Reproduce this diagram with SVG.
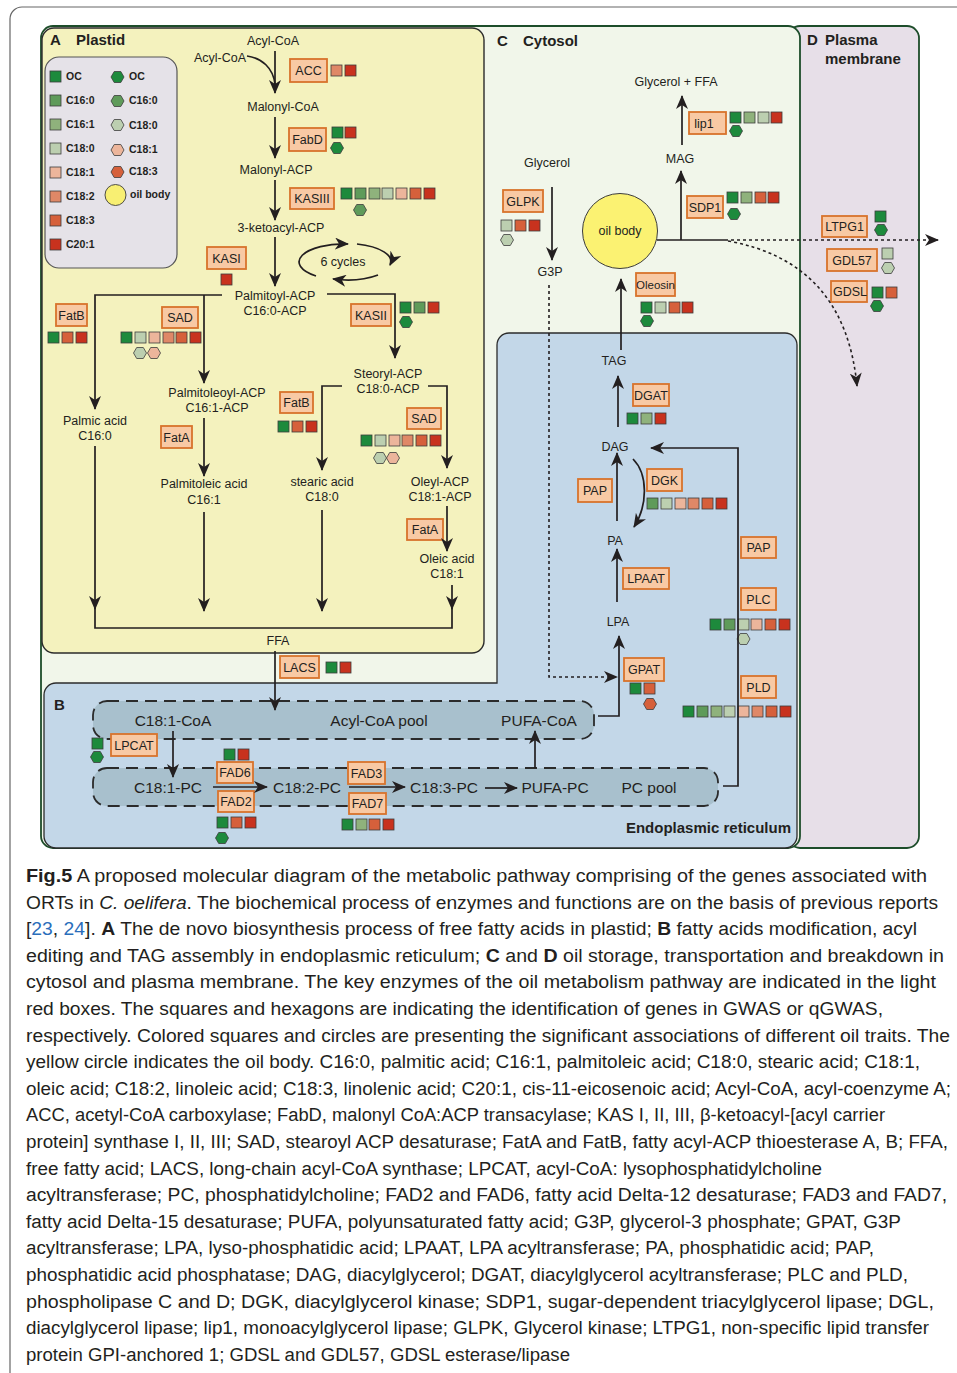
<svg xmlns="http://www.w3.org/2000/svg" width="957" height="1373" viewBox="0 0 957 1373">
<style>
.t{font-family:"Liberation Sans",Arial,sans-serif;font-size:12.5px;fill:#231f20;text-anchor:middle}
.er{font-size:15.5px}
.b{font-weight:bold}
.st{text-anchor:start}
.en{text-anchor:end}
.lg{font-family:"Liberation Sans",Arial,sans-serif;font-size:10.5px;font-weight:bold;fill:#231f20}
.box rect{fill:#f8c9a4;stroke:#d8732c;stroke-width:1.8}
.q{stroke:#3c3c3c;stroke-width:0.8}
.c0{fill:#1d8a3c}.c1{fill:#5f9b5a}.c2{fill:#8fb27c}.c3{fill:#bccfb0}.c4{fill:#ecb59b}.c5{fill:#df8867}.c6{fill:#d6603b}.c7{fill:#c8321e}
.ln{fill:none;stroke:#231f20;stroke-width:1.7}
.ar{marker-end:url(#ah)}
.dot{stroke-dasharray:3 3;stroke-width:1.6}
.pool{fill:#a8c0cd;stroke:#2b2b2b;stroke-width:1.8;stroke-dasharray:12 7}
.cap{font-family:"Liberation Sans",Arial,sans-serif;font-size:18px;fill:#231f20}
.lk{fill:#2a6ebb}
</style>
<defs>
<marker id="ah" viewBox="0 0 14 12" refX="13" refY="6" markerWidth="14" markerHeight="12" markerUnits="userSpaceOnUse" orient="auto"><path d="M0,0 L14,6 L0,12 L4,6 z" fill="#231f20"/></marker>
<rect id="s" width="11" height="11"/>
<polygon id="h" points="-6.5,0 -3.3,-5.5 3.3,-5.5 6.5,0 3.3,5.5 -3.3,5.5"/>
</defs>

<!-- outer frame -->
<path d="M10 1373 V19 A12 12 0 0 1 22 7 H957" fill="none" stroke="#666" stroke-width="1.2"/>

<g id="panels">
<rect id="panelD" x="788" y="26" width="131" height="822" rx="12" fill="#e7dfe8" stroke="#1d4d2a" stroke-width="1.8"/>
<rect id="panelC" x="41" y="26" width="759" height="822" rx="12" fill="#f1f6ea" stroke="#1d4d2a" stroke-width="1.8"/>
<rect id="panelA" x="42" y="28" width="442" height="625" rx="12" fill="#f4f2be" stroke="#2b2b2b" stroke-width="1.4"/>
<path id="panelB" d="M509 333 H785 A12 12 0 0 1 797 345 V836 A12 12 0 0 1 785 848 H56 A12 12 0 0 1 44 836 V695 A12 12 0 0 1 56 683 H497 V345 A12 12 0 0 1 509 333 Z" fill="#c3d7e8" stroke="#2b2b2b" stroke-width="1.3"/>
<rect id="acylpool" class="pool" x="93" y="701" width="501" height="38" rx="14"/>
<rect id="pcpool" class="pool" x="93" y="768" width="625" height="38" rx="14"/>
<text class="t b st" style="font-size:15px" x="50" y="45">A</text>
<text class="t b st" style="font-size:15px" x="76" y="45">Plastid</text>
<text class="t b st" style="font-size:15px" x="497" y="46">C</text>
<text class="t b st" style="font-size:15px" x="523" y="46">Cytosol</text>
<text class="t b st" style="font-size:15px" x="807" y="45">D</text>
<text class="t b st" style="font-size:15px" x="825" y="45">Plasma</text>
<text class="t b st" style="font-size:15px" x="825" y="64">membrane</text>
<text class="t b st" style="font-size:15px" x="54" y="710">B</text>
<text class="t b en" style="font-size:15px" x="791" y="833">Endoplasmic reticulum</text>
</g>

<g id="legend">
<rect x="45" y="57" width="132" height="211" rx="14" fill="#e5e2e8" stroke="#555" stroke-width="1.2"/>
<use href="#s" x="50" y="71" class="q c0"/><text class="lg" x="66" y="80">OC</text>
<use href="#s" x="50" y="95" class="q c1"/><text class="lg" x="66" y="104">C16:0</text>
<use href="#s" x="50" y="119" class="q c2"/><text class="lg" x="66" y="128">C16:1</text>
<use href="#s" x="50" y="143" class="q c3"/><text class="lg" x="66" y="152">C18:0</text>
<use href="#s" x="50" y="167" class="q c4"/><text class="lg" x="66" y="176">C18:1</text>
<use href="#s" x="50" y="191" class="q c5"/><text class="lg" x="66" y="200">C18:2</text>
<use href="#s" x="50" y="215" class="q c6"/><text class="lg" x="66" y="224">C18:3</text>
<use href="#s" x="50" y="239" class="q c7"/><text class="lg" x="66" y="248">C20:1</text>
<use href="#h" x="117.5" y="77" class="q c0"/><text class="lg" x="129" y="80">OC</text>
<use href="#h" x="117.5" y="101" class="q c1"/><text class="lg" x="129" y="104">C16:0</text>
<use href="#h" x="117.5" y="125" class="q c3"/><text class="lg" x="129" y="129">C18:0</text>
<use href="#h" x="117.5" y="150" class="q c4"/><text class="lg" x="129" y="153">C18:1</text>
<use href="#h" x="117.5" y="172" class="q c6"/><text class="lg" x="129" y="175">C18:3</text>
<circle cx="115.5" cy="195" r="10.5" fill="#f8ef72" stroke="#3c3c3c" stroke-width="0.9"/><text class="lg" x="130" y="198">oil body</text>
</g>

<!-- metabolites -->
<g id="m-acylcoa1"><text class="t" x="273" y="45">Acyl-CoA</text></g>
<g id="m-acylcoa2"><text class="t" x="220" y="62">Acyl-CoA</text></g>
<g id="m-malonylcoa"><text class="t" x="283" y="111">Malonyl-CoA</text></g>
<g id="m-malonylacp"><text class="t" x="276" y="174">Malonyl-ACP</text></g>
<g id="m-ketoacyl"><text class="t" x="281" y="232">3-ketoacyl-ACP</text></g>
<g id="m-cycles"><text class="t" x="343" y="266">6 cycles</text></g>
<g id="m-palmitoyl"><text class="t" x="275" y="300">Palmitoyl-ACP</text><text class="t" x="275" y="315">C16:0-ACP</text></g>
<g id="m-palmic"><text class="t" x="95" y="425">Palmic acid</text><text class="t" x="95" y="440">C16:0</text></g>
<g id="m-palmitoleoyl"><text class="t" x="217" y="397">Palmitoleoyl-ACP</text><text class="t" x="217" y="412">C16:1-ACP</text></g>
<g id="m-palmitoleic"><text class="t" x="204" y="488">Palmitoleic acid</text><text class="t" x="204" y="504">C16:1</text></g>
<g id="m-steoryl"><text class="t" x="388" y="378">Steoryl-ACP</text><text class="t" x="388" y="393">C18:0-ACP</text></g>
<g id="m-stearic"><text class="t" x="322" y="486">stearic acid</text><text class="t" x="322" y="501">C18:0</text></g>
<g id="m-oleyl"><text class="t" x="440" y="486">Oleyl-ACP</text><text class="t" x="440" y="501">C18:1-ACP</text></g>
<g id="m-oleic"><text class="t" x="447" y="563">Oleic acid</text><text class="t" x="447" y="578">C18:1</text></g>
<g id="m-ffa"><text class="t" x="278" y="645">FFA</text></g>
<g id="m-c181coa"><text class="t er" x="173" y="726">C18:1-CoA</text></g>
<g id="m-acylpool"><text class="t er" x="379" y="726">Acyl-CoA pool</text></g>
<g id="m-pufacoa"><text class="t er" x="539" y="726">PUFA-CoA</text></g>
<g id="m-c181pc"><text class="t er" x="168" y="793">C18:1-PC</text></g>
<g id="m-c182pc"><text class="t er" x="307" y="793">C18:2-PC</text></g>
<g id="m-c183pc"><text class="t er" x="444" y="793">C18:3-PC</text></g>
<g id="m-pufapc"><text class="t er" x="555" y="793">PUFA-PC</text></g>
<g id="m-pcpool"><text class="t er" x="649" y="793">PC pool</text></g>
<g id="m-glyffa"><text class="t" x="676" y="86">Glycerol + FFA</text></g>
<g id="m-mag"><text class="t" x="680" y="163">MAG</text></g>
<g id="m-glycerol"><text class="t" x="547" y="167">Glycerol</text></g>
<g id="m-g3p"><text class="t" x="550" y="276">G3P</text></g>
<g id="m-oilbody"><circle cx="620" cy="231" r="37.5" fill="#fbf272" stroke="#3c3c3c" stroke-width="1"/><text class="t" x="620" y="235">oil body</text></g>
<g id="m-tag"><text class="t" x="614" y="365">TAG</text></g>
<g id="m-dag"><text class="t" x="615" y="451">DAG</text></g>
<g id="m-pa"><text class="t" x="615" y="545">PA</text></g>
<g id="m-lpa"><text class="t" x="618" y="626">LPA</text></g>

<!-- enzymes -->
<g id="e-acc" class="box"><rect x="290" y="59" width="37" height="23"/><text class="t" x="308.5" y="75">ACC</text>
<use href="#s" x="331" y="65" class="q c5"/><use href="#s" x="345" y="65" class="q c7"/></g>
<g id="e-fabd" class="box"><rect x="289" y="128" width="37" height="23"/><text class="t" x="307.5" y="144">FabD</text>
<use href="#s" x="332" y="127" class="q c0"/><use href="#s" x="345" y="127" class="q c7"/><use href="#h" x="337" y="148" class="q c0"/></g>
<g id="e-kasiii" class="box"><rect x="290" y="188" width="44" height="21"/><text class="t" x="312" y="203">KASIII</text>
<use href="#s" x="341" y="188" class="q c0"/><use href="#s" x="355" y="188" class="q c1"/><use href="#s" x="369" y="188" class="q c2"/><use href="#s" x="382" y="188" class="q c3"/><use href="#s" x="396" y="188" class="q c4"/><use href="#s" x="410" y="188" class="q c6"/><use href="#s" x="424" y="188" class="q c7"/><use href="#h" x="360" y="210" class="q c1"/></g>
<g id="e-kasi" class="box"><rect x="207" y="247" width="39" height="22"/><text class="t" x="226.5" y="262.5">KASI</text>
<use href="#s" x="221" y="274" class="q c7"/></g>
<g id="e-fatb1" class="box"><rect x="56" y="304" width="31" height="22"/><text class="t" x="71.5" y="319.5">FatB</text>
<use href="#s" x="48" y="332" class="q c0"/><use href="#s" x="62" y="332" class="q c6"/><use href="#s" x="76" y="332" class="q c7"/></g>
<g id="e-sad1" class="box"><rect x="162" y="307" width="36" height="21"/><text class="t" x="180" y="322">SAD</text>
<use href="#s" x="121" y="332" class="q c0"/><use href="#s" x="135" y="332" class="q c3"/><use href="#s" x="149" y="332" class="q c4"/><use href="#s" x="163" y="332" class="q c5"/><use href="#s" x="176" y="332" class="q c6"/><use href="#s" x="190" y="332" class="q c7"/><use href="#h" x="140" y="353" class="q c3"/><use href="#h" x="154" y="353" class="q c4"/></g>
<g id="e-kasii" class="box"><rect x="351" y="304" width="40" height="22"/><text class="t" x="371" y="319.5">KASII</text>
<use href="#s" x="400" y="302" class="q c0"/><use href="#s" x="414" y="302" class="q c1"/><use href="#s" x="428" y="302" class="q c7"/><use href="#h" x="406" y="322" class="q c0"/></g>
<g id="e-fatb2" class="box"><rect x="280" y="392" width="33" height="21"/><text class="t" x="296.5" y="407">FatB</text>
<use href="#s" x="278" y="421" class="q c0"/><use href="#s" x="292" y="421" class="q c6"/><use href="#s" x="306" y="421" class="q c7"/></g>
<g id="e-sad2" class="box"><rect x="407" y="408" width="34" height="21"/><text class="t" x="424" y="423">SAD</text>
<use href="#s" x="361" y="435" class="q c0"/><use href="#s" x="375" y="435" class="q c3"/><use href="#s" x="389" y="435" class="q c4"/><use href="#s" x="402" y="435" class="q c5"/><use href="#s" x="416" y="435" class="q c6"/><use href="#s" x="430" y="435" class="q c7"/><use href="#h" x="380" y="458" class="q c3"/><use href="#h" x="393" y="458" class="q c4"/></g>
<g id="e-fata1" class="box"><rect x="161" y="426" width="31" height="22"/><text class="t" x="176.5" y="441.5">FatA</text></g>
<g id="e-fata2" class="box"><rect x="407" y="519" width="36" height="21"/><text class="t" x="425" y="534">FatA</text></g>
<g id="e-lacs" class="box"><rect x="280" y="656" width="39" height="22"/><text class="t" x="299.5" y="671.5">LACS</text>
<use href="#s" x="326" y="662" class="q c0"/><use href="#s" x="340" y="662" class="q c7"/></g>
<g id="e-lpcat" class="box"><rect x="111" y="734" width="46" height="22"/><text class="t" x="134" y="749.5">LPCAT</text>
<use href="#s" x="92" y="738" class="q c0"/><use href="#h" x="97" y="757" class="q c0"/></g>
<g id="e-fad6" class="box"><rect x="217" y="762" width="36" height="21"/><text class="t" x="235" y="777">FAD6</text>
<use href="#s" x="224" y="749" class="q c0"/><use href="#s" x="238" y="749" class="q c7"/></g>
<g id="e-fad2" class="box"><rect x="218" y="791" width="36" height="21"/><text class="t" x="236" y="806">FAD2</text>
<use href="#s" x="217" y="817" class="q c0"/><use href="#s" x="231" y="817" class="q c6"/><use href="#s" x="245" y="817" class="q c7"/><use href="#h" x="222" y="838" class="q c0"/></g>
<g id="e-fad3" class="box"><rect x="348" y="762" width="37" height="22"/><text class="t" x="366.5" y="777.5">FAD3</text></g>
<g id="e-fad7" class="box"><rect x="349" y="793" width="37" height="21"/><text class="t" x="367.5" y="808">FAD7</text>
<use href="#s" x="342" y="819" class="q c0"/><use href="#s" x="356" y="819" class="q c2"/><use href="#s" x="369" y="819" class="q c6"/><use href="#s" x="383" y="819" class="q c7"/></g>
<g id="e-gpat" class="box"><rect x="624" y="658" width="40" height="23"/><text class="t" x="644" y="674">GPAT</text>
<use href="#s" x="630" y="683" class="q c0"/><use href="#s" x="644" y="683" class="q c6"/><use href="#h" x="650" y="704" class="q c6"/></g>
<g id="e-lpaat" class="box"><rect x="623" y="568" width="46" height="21"/><text class="t" x="646" y="583">LPAAT</text></g>
<g id="e-pap1" class="box"><rect x="578" y="479" width="34" height="23"/><text class="t" x="595" y="495">PAP</text></g>
<g id="e-dgk" class="box"><rect x="647" y="469" width="35" height="22"/><text class="t" x="664.5" y="484.5">DGK</text>
<use href="#s" x="647" y="498" class="q c1"/><use href="#s" x="661" y="498" class="q c3"/><use href="#s" x="675" y="498" class="q c4"/><use href="#s" x="688" y="498" class="q c5"/><use href="#s" x="702" y="498" class="q c6"/><use href="#s" x="716" y="498" class="q c7"/></g>
<g id="e-dgat" class="box"><rect x="633" y="384" width="36" height="22"/><text class="t" x="651" y="399.5">DGAT</text>
<use href="#s" x="627" y="413" class="q c0"/><use href="#s" x="641" y="413" class="q c2"/><use href="#s" x="655" y="413" class="q c7"/></g>
<g id="e-pap2" class="box"><rect x="741" y="537" width="35" height="21"/><text class="t" x="758.5" y="552">PAP</text></g>
<g id="e-plc" class="box"><rect x="741" y="588" width="35" height="22"/><text class="t" x="758.5" y="603.5">PLC</text>
<use href="#s" x="710" y="619" class="q c0"/><use href="#s" x="724" y="619" class="q c1"/><use href="#s" x="738" y="619" class="q c3"/><use href="#s" x="751" y="619" class="q c4"/><use href="#s" x="765" y="619" class="q c6"/><use href="#s" x="779" y="619" class="q c7"/><use href="#h" x="743.5" y="639" class="q c3"/></g>
<g id="e-pld" class="box"><rect x="741" y="676" width="35" height="22"/><text class="t" x="758.5" y="691.5">PLD</text>
<use href="#s" x="683" y="706" class="q c0"/><use href="#s" x="697" y="706" class="q c1"/><use href="#s" x="711" y="706" class="q c2"/><use href="#s" x="724" y="706" class="q c3"/><use href="#s" x="738" y="706" class="q c4"/><use href="#s" x="752" y="706" class="q c5"/><use href="#s" x="766" y="706" class="q c6"/><use href="#s" x="780" y="706" class="q c7"/></g>
<g id="e-glpk" class="box"><rect x="503" y="190" width="40" height="22"/><text class="t" x="523" y="205.5">GLPK</text>
<use href="#s" x="501" y="220" class="q c3"/><use href="#s" x="515" y="220" class="q c6"/><use href="#s" x="529" y="220" class="q c7"/><use href="#h" x="507" y="240" class="q c3"/></g>
<g id="e-oleosin" class="box"><rect x="636" y="273" width="39" height="23"/><text class="t" x="655.5" y="289" style="font-size:11.5px">Oleosin</text>
<use href="#s" x="641" y="302" class="q c0"/><use href="#s" x="655" y="302" class="q c3"/><use href="#s" x="669" y="302" class="q c6"/><use href="#s" x="682" y="302" class="q c7"/><use href="#h" x="647" y="321" class="q c0"/></g>
<g id="e-sdp1" class="box"><rect x="687" y="196" width="36" height="22"/><text class="t" x="705" y="211.5">SDP1</text>
<use href="#s" x="727" y="192" class="q c0"/><use href="#s" x="741" y="192" class="q c2"/><use href="#s" x="755" y="192" class="q c6"/><use href="#s" x="768" y="192" class="q c7"/><use href="#h" x="734" y="214" class="q c0"/></g>
<g id="e-lip1" class="box"><rect x="689" y="112" width="37" height="22"/><text class="t" x="704" y="127.5">lip1</text>
<use href="#s" x="730" y="112" class="q c0"/><use href="#s" x="744" y="112" class="q c2"/><use href="#s" x="758" y="112" class="q c3"/><use href="#s" x="771" y="112" class="q c7"/><use href="#h" x="736" y="131" class="q c0"/></g>
<g id="e-ltpg1" class="box"><rect x="822" y="216" width="45" height="21"/><text class="t" x="844.5" y="231">LTPG1</text>
<use href="#s" x="875" y="211" class="q c0"/><use href="#h" x="881" y="230" class="q c0"/></g>
<g id="e-gdl57" class="box"><rect x="827" y="249" width="50" height="22"/><text class="t" x="852" y="264.5">GDL57</text>
<use href="#s" x="882" y="248" class="q c3"/><use href="#h" x="888" y="268" class="q c3"/></g>
<g id="e-gdsl" class="box"><rect x="831" y="281" width="36" height="21"/><text class="t" x="850" y="296">GDSL</text>
<use href="#s" x="872" y="287" class="q c0"/><use href="#s" x="886" y="287" class="q c6"/><use href="#h" x="877" y="306" class="q c0"/></g>

<g id="connectors">
<path class="ln ar" d="M275 51 V93"/>
<path class="ln" d="M247 56 C262 58 273 68 275 84"/>
<path class="ln ar" d="M275 117 V158"/>
<path class="ln ar" d="M275 180 V220"/>
<path class="ln ar" d="M275 237 V286"/>
<path class="ln ar" d="M316 276 A45 18 0 0 1 348 244"/>
<path class="ln ar" d="M357 244 A45 18 0 0 1 390 265"/>
<path class="ln ar" d="M378 275 A45 18 0 0 1 333 279"/>
<path class="ln ar" d="M222 295 H95 V409"/>
<path class="ln ar" d="M204 295 V383"/>
<path class="ln ar" d="M327 294 H395 V358"/>
<path class="ln ar" d="M342 386 H322 V470"/>
<path class="ln ar" d="M428 386 H447 V468"/>
<path class="ln ar" d="M204 418 V476"/>
<path class="ln ar" d="M447 506 V551"/>
<path class="ln ar" d="M95 446 V609"/>
<path class="ln ar" d="M452 585 V609"/>
<path class="ln" d="M95 608 V628 H452 V608"/>
<path class="ln ar" d="M204 512 V611"/>
<path class="ln ar" d="M322 510 V611"/>
<path class="ln ar" d="M275 651 V710"/>
<path class="ln ar" d="M173 731 V777"/>
<path class="ln ar" d="M213 787 H267"/>
<path class="ln ar" d="M349 787 H405"/>
<path class="ln ar" d="M485 788 H517"/>
<path class="ln ar" d="M535 768 V731"/>
<path class="ln ar" d="M598 716 H619 V636"/>
<path class="ln dot ar" d="M549 285 V677 H617"/>
<path class="ln ar" d="M617 602 V549"/>
<path class="ln ar" d="M617 521 V453"/>
<path class="ln ar" d="M633 459 C648 474 648 505 634 527"/>
<path class="ln ar" d="M618 427 V376"/>
<path class="ln ar" d="M723 786 H738 V448 H651"/>
<path class="ln ar" d="M621 350 V279"/>
<path class="ln ar" d="M552 187 V260"/>
<path class="ln" d="M657 240 H725"/>
<path class="ln ar" d="M681 240 V171"/>
<path class="ln ar" d="M682 145 V96"/>
<path class="ln dot ar" d="M725 240 H938"/>
<path class="ln dot ar" d="M728 241 Q845 262 857 386"/>
</g>

<g id="caption" class="cap">
<text x="26" y="882" textLength="901" lengthAdjust="spacingAndGlyphs"><tspan font-weight="bold">Fig.5</tspan> A proposed molecular diagram of the metabolic pathway comprising of the genes associated with</text>
<text x="26" y="908.6" textLength="912" lengthAdjust="spacingAndGlyphs">ORTs in <tspan font-style="italic">C. oelifera</tspan>. The biochemical process of enzymes and functions are on the basis of previous reports</text>
<text x="26" y="935.2" textLength="891" lengthAdjust="spacingAndGlyphs">[<tspan class="lk">23</tspan>, <tspan class="lk">24</tspan>]. <tspan font-weight="bold">A</tspan> The de novo biosynthesis process of free fatty acids in plastid; <tspan font-weight="bold">B</tspan> fatty acids modification, acyl</text>
<text x="26" y="961.8" textLength="918" lengthAdjust="spacingAndGlyphs">editing and TAG assembly in endoplasmic reticulum; <tspan font-weight="bold">C</tspan> and <tspan font-weight="bold">D</tspan> oil storage, transportation and breakdown in</text>
<text x="26" y="988.4" textLength="910" lengthAdjust="spacingAndGlyphs">cytosol and plasma membrane. The key enzymes of the oil metabolism pathway are indicated in the light</text>
<text x="26" y="1015" textLength="857" lengthAdjust="spacingAndGlyphs">red boxes. The squares and hexagons are indicating the identification of genes in GWAS or qGWAS,</text>
<text x="26" y="1041.6" textLength="924" lengthAdjust="spacingAndGlyphs">respectively. Colored squares and circles are presenting the significant associations of different oil traits. The</text>
<text x="26" y="1068.2" textLength="894" lengthAdjust="spacingAndGlyphs">yellow circle indicates the oil body. C16:0, palmitic acid; C16:1, palmitoleic acid; C18:0, stearic acid; C18:1,</text>
<text x="26" y="1094.8" textLength="925" lengthAdjust="spacingAndGlyphs">oleic acid; C18:2, linoleic acid; C18:3, linolenic acid; C20:1, cis-11-eicosenoic acid; Acyl-CoA, acyl-coenzyme A;</text>
<text x="26" y="1121.4" textLength="859" lengthAdjust="spacingAndGlyphs">ACC, acetyl-CoA carboxylase; FabD, malonyl CoA:ACP transacylase; KAS I, II, III, β-ketoacyl-[acyl carrier</text>
<text x="26" y="1148" textLength="922" lengthAdjust="spacingAndGlyphs">protein] synthase I, II, III; SAD, stearoyl ACP desaturase; FatA and FatB, fatty acyl-ACP thioesterase A, B; FFA,</text>
<text x="26" y="1174.6" textLength="796" lengthAdjust="spacingAndGlyphs">free fatty acid; LACS, long-chain acyl-CoA synthase; LPCAT, acyl-CoA: lysophosphatidylcholine</text>
<text x="26" y="1201.2" textLength="921" lengthAdjust="spacingAndGlyphs">acyltransferase; PC, phosphatidylcholine; FAD2 and FAD6, fatty acid Delta-12 desaturase; FAD3 and FAD7,</text>
<text x="26" y="1227.8" textLength="875" lengthAdjust="spacingAndGlyphs">fatty acid Delta-15 desaturase; PUFA, polyunsaturated fatty acid; G3P, glycerol-3 phosphate; GPAT, G3P</text>
<text x="26" y="1254.4" textLength="848" lengthAdjust="spacingAndGlyphs">acyltransferase; LPA, lyso-phosphatidic acid; LPAAT, LPA acyltransferase; PA, phosphatidic acid; PAP,</text>
<text x="26" y="1281" textLength="882" lengthAdjust="spacingAndGlyphs">phosphatidic acid phosphatase; DAG, diacylglycerol; DGAT, diacylglycerol acyltransferase; PLC and PLD,</text>
<text x="26" y="1307.6" textLength="908" lengthAdjust="spacingAndGlyphs">phospholipase C and D; DGK, diacylglycerol kinase; SDP1, sugar-dependent triacylglycerol lipase; DGL,</text>
<text x="26" y="1334.2" textLength="903" lengthAdjust="spacingAndGlyphs">diacylglycerol lipase; lip1, monoacylglycerol lipase; GLPK, Glycerol kinase; LTPG1, non-specific lipid transfer</text>
<text x="26" y="1360.8" textLength="544" lengthAdjust="spacingAndGlyphs">protein GPI-anchored 1; GDSL and GDL57, GDSL esterase/lipase</text>
</g>
</svg>
